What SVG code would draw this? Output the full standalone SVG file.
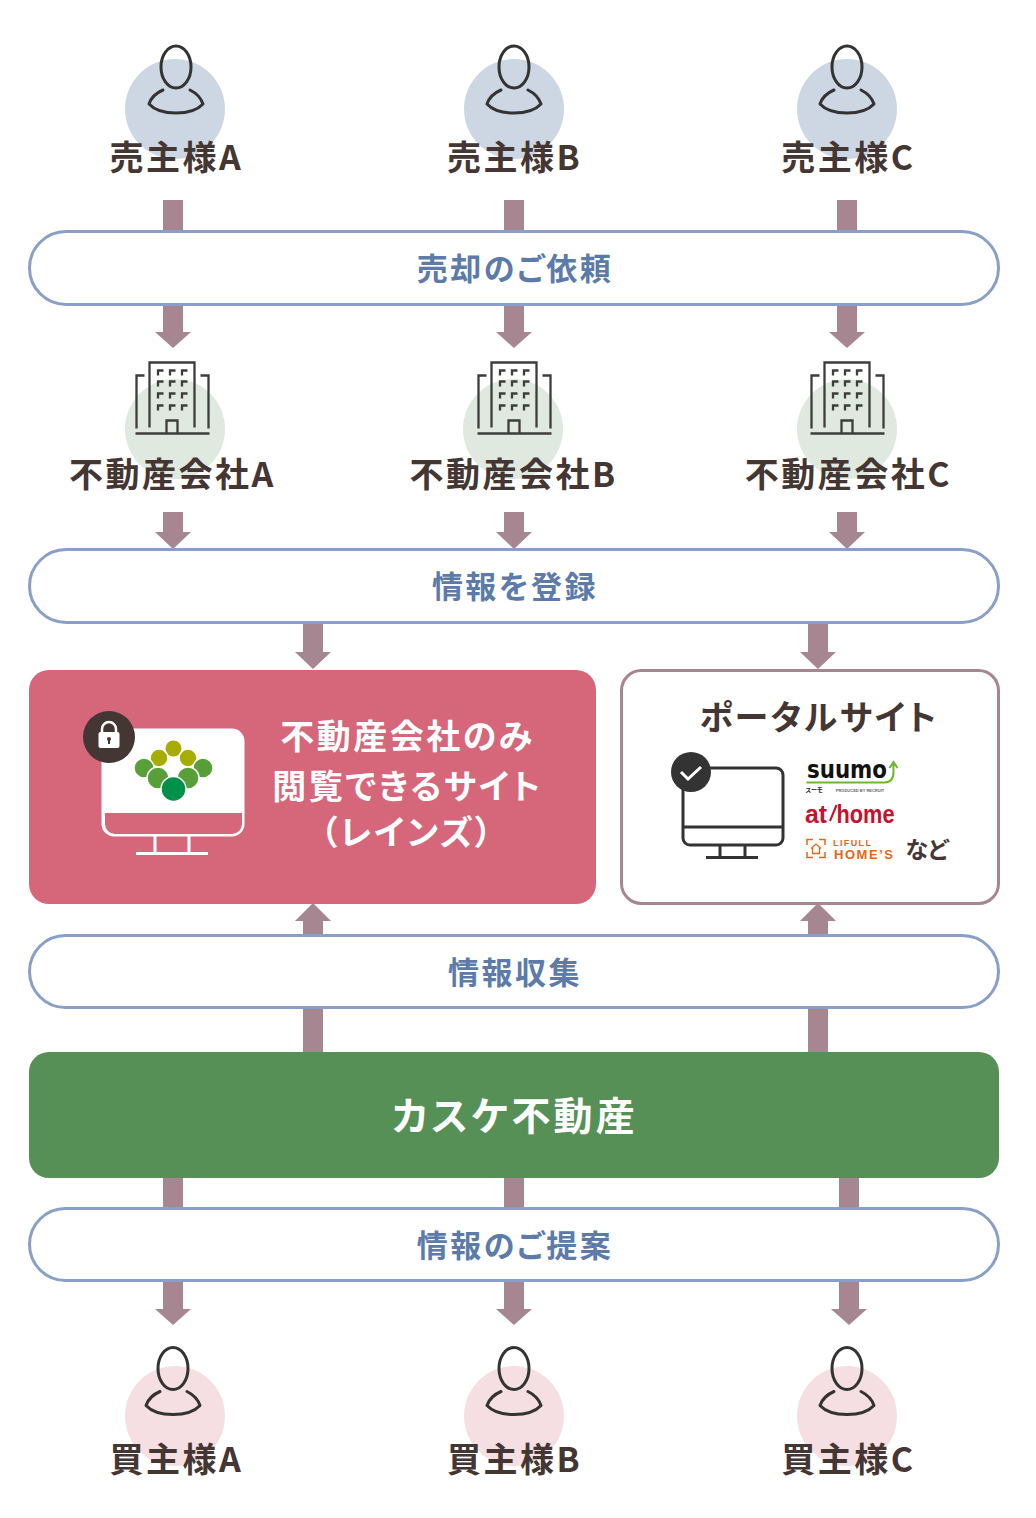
<svg xmlns="http://www.w3.org/2000/svg" width="1036" height="1518" viewBox="0 0 1036 1518">
<style>
text{font-family:"Noto Sans CJK JP","Noto Sans",sans-serif;font-weight:700;text-anchor:middle;dominant-baseline:central;font-feature-settings:"palt"}
.lab{font-size:34px;fill:#443632;letter-spacing:2.500px}
.pl{font-size:31px;fill:#5c7ba8;letter-spacing:2.500px}
.wt{font-size:34px;fill:#fff;letter-spacing:2.500px}
.pill{fill:#fff;stroke:#8a9fc8;stroke-width:3}
.ln{fill:none;stroke:#333;stroke-width:3;stroke-linecap:round;stroke-linejoin:round}
.bl{fill:none;stroke:#3d3d3d;stroke-width:2.300}
.ar{fill:#a68690}
.wl{fill:none;stroke:#fff;stroke-width:3}
.dl{fill:none;stroke:#333;stroke-width:3}
.logo{font-family:"Liberation Sans",sans-serif;dominant-baseline:alphabetic}
</style>
<defs>
<symbol id="person" overflow="visible"><g class="ln"><ellipse cx="0" cy="0" rx="15" ry="21"/><path d="M-13 23C-20 26-25 31-27 37C-16 49 16 49 27 37C25 31 20 26 14 23"/></g></symbol>
<symbol id="bld" overflow="visible"><g class="bl"><path d="M1 73H75M2 68V15H10M74 68V15H66M15 67V2H60V67M32 73V60H43V73"/><path d="M23.500 15V10H29M35.500 15V10H41M47.500 15V10H53M23.500 26V21H29M35.500 26V21H41M47.500 26V21H53M23.500 38V33H29M35.500 38V33H41M47.500 38V33H53M23.500 50V45H29M35.500 50V45H41M47.500 50V45H53"/></g></symbol>
<path id="d" d="M-10 0H10V28H18L0 44L-18 28H-10Z"/>
<path id="s" d="M-10 0H10V20H18L0 37L-18 20H-10Z"/>
<path id="t" d="M-10 0H10V30H18L0 47L-18 30H-10Z"/>
</defs>
<g id="connectors" class="ar">
<rect x="163" y="200" width="20" height="32"/><rect x="504" y="200" width="20" height="32"/><rect x="837" y="200" width="20" height="32"/>
<use href="#d" x="173" y="304"/><use href="#d" x="514" y="304"/><use href="#d" x="847" y="304"/>
<use href="#s" x="173" y="512"/><use href="#s" x="514" y="512"/><use href="#s" x="847" y="512"/>
<use href="#t" x="313" y="622"/><use href="#t" x="818" y="622"/>
<path d="M303 936V921H295L313 903L331 921H323V936Z"/><path d="M808 936V921H800L818 903L836 921H828V936Z"/>
<rect x="303" y="1007" width="20" height="46"/><rect x="808" y="1007" width="20" height="46"/>
<rect x="163" y="1177" width="20" height="32"/><rect x="504" y="1177" width="20" height="32"/><rect x="839" y="1177" width="20" height="32"/>
<use href="#d" x="173" y="1281"/><use href="#d" x="514" y="1281"/><use href="#d" x="849" y="1281"/>
</g>
<g id="seller-a"><circle cx="175" cy="109" r="50" fill="#cdd6e3"/><use href="#person" x="176" y="67"/><text class="lab" x="176.500" y="155">売主様A</text></g>
<g id="seller-b"><circle cx="514" cy="109" r="50" fill="#cdd6e3"/><use href="#person" x="514" y="67"/><text class="lab" x="514.500" y="155">売主様B</text></g>
<g id="seller-c"><circle cx="847" cy="109" r="50" fill="#cdd6e3"/><use href="#person" x="847" y="67"/><text class="lab" x="848.500" y="155">売主様C</text></g>
<g id="pill-1"><rect class="pill" x="29.500" y="231.500" width="969" height="73" rx="36.500"/><text class="pl" x="515" y="266">売却のご依頼</text></g>
<g id="co-a"><circle cx="175" cy="429" r="50" fill="#dfe9df"/><use href="#bld" x="134.500" y="360.500"/><text class="lab" x="172.500" y="472">不動産会社A</text></g>
<g id="co-b"><circle cx="513" cy="429" r="50" fill="#dfe9df"/><use href="#bld" x="476.500" y="360.500"/><text class="lab" x="513.500" y="472">不動産会社B</text></g>
<g id="co-c"><circle cx="847" cy="429" r="50" fill="#dfe9df"/><use href="#bld" x="809.500" y="360.500"/><text class="lab" x="848.500" y="472">不動産会社C</text></g>
<g id="pill-2"><rect class="pill" x="29.500" y="549.500" width="969" height="73" rx="36.500"/><text class="pl" x="515" y="584">情報を登録</text></g>
<g id="reins">
<rect x="29" y="670" width="567" height="234" rx="20" fill="#d6667a"/>
<path d="M115 730H232A11 11 0 0 1 243 741V824A11 11 0 0 1 232 835H114A11 11 0 0 1 103 824V741Z" fill="#fff" stroke="#fff" stroke-width="3"/>
<path d="M105 813H242V824A10 10 0 0 1 232 834H115A10 10 0 0 1 105 824Z" fill="#d6667a"/>
<path class="wl" d="M155 836V853M189 836V853M136 853.500H208"/>
<circle cx="109" cy="737" r="26" fill="#443632"/>
<path d="M102 733V729A7 7 0 0 1 116 729V733" fill="none" stroke="#fff" stroke-width="2.500"/><rect x="98.500" y="732" width="21" height="16" rx="2" fill="#fff"/><circle cx="109" cy="739" r="2" fill="#443632"/><rect x="108" y="739" width="2" height="5" fill="#443632"/>
<circle cx="173.500" cy="748.500" r="8" fill="#a5ae00"/>
<g stroke="#fff" stroke-width="1.500"><circle cx="159" cy="758" r="9" fill="#a5ae00"/><circle cx="188" cy="758" r="9" fill="#a5ae00"/><circle cx="144" cy="768" r="10" fill="#589f3a"/><circle cx="203" cy="768" r="10" fill="#589f3a"/><circle cx="158" cy="778" r="11" fill="#589f3a"/><circle cx="188" cy="778" r="11" fill="#589f3a"/><circle cx="173.500" cy="789" r="12.500" fill="#00904a"/></g>
<text class="wt" x="407.500" y="734">不動産会社のみ</text><text class="wt" x="407.500" y="784">閲覧できるサイト</text><text class="wt" x="407.500" y="830">（レインズ）</text>
</g>
<g id="portal">
<rect x="621.500" y="670.500" width="377" height="233" rx="20" fill="#fff" stroke="#a68690" stroke-width="3"/>
<text class="lab" x="819" y="715">ポータルサイト</text>
<rect x="683" y="768" width="100" height="77" rx="7" class="dl"/><path class="dl" d="M683 827H783M720 845V857M745 845V857M706 857.500H758"/>
<circle cx="691" cy="772" r="20" fill="#333"/><path d="M681 772L688 779L701 767" fill="none" stroke="#fff" stroke-width="3"/>
<text class="logo" x="847" y="778" font-size="24" fill="#111" textLength="80" lengthAdjust="spacingAndGlyphs" style="font-family:'DejaVu Sans',sans-serif">suumo</text>
<path d="M806.500 782.500H884Q893.500 782.500 893.500 772V764M889.500 768L893.500 762L897.500 768" fill="none" stroke="#6cb52d" stroke-width="2"/>
<text x="814" y="789" font-size="6" fill="#222">スーモ</text><text class="logo" x="860" y="792" font-size="4" fill="#666">PRODUCED BY RECRUIT</text>
<text class="logo" x="816" y="823" font-size="25" fill="#c8102e" textLength="22" lengthAdjust="spacingAndGlyphs">at</text>
<path d="M836.500 805L830 821" fill="none" stroke="#c8102e" stroke-width="2"/>
<text class="logo" x="865.500" y="823" font-size="25" fill="#c8102e" textLength="58" lengthAdjust="spacingAndGlyphs">home</text>
<path d="M807 845V839.500H813M819 839.500H825V845M807 852V857.500H813M819 857.500H825V852" fill="none" stroke="#e8651a" stroke-width="1.500"/><path d="M811 848.500L816 844L821 848.500M812.500 847V853.500H819.500V847" fill="none" stroke="#e8651a" stroke-width="1.300"/>
<text class="logo" x="852" y="846" font-size="9" fill="#e8651a" textLength="38">LIFULL</text>
<text class="logo" x="863.500" y="858.500" font-size="13" fill="#e8651a" textLength="59">HOME’S</text>
<text x="927" y="848" font-size="23" fill="#443632" font-weight="500">など</text>
</g>
<g id="pill-3"><rect class="pill" x="29.500" y="935.500" width="969" height="72" rx="36"/><text class="pl" x="515" y="970">情報収集</text></g>
<g id="kasuke"><rect x="29" y="1052" width="970" height="126" rx="20" fill="#569057"/><text x="515" y="1113" font-size="39" fill="#fff" letter-spacing="3.200">カスケ不動産</text></g>
<g id="pill-4"><rect class="pill" x="29.500" y="1208.500" width="969" height="72" rx="36"/><text class="pl" x="515" y="1243">情報のご提案</text></g>
<g id="buyer-a"><circle cx="175" cy="1416" r="50" fill="#f5dfe3"/><use href="#person" x="173" y="1368.500"/><text class="lab" x="176.500" y="1457">買主様A</text></g>
<g id="buyer-b"><circle cx="514" cy="1416" r="50" fill="#f5dfe3"/><use href="#person" x="514" y="1368.500"/><text class="lab" x="514.500" y="1457">買主様B</text></g>
<g id="buyer-c"><circle cx="847" cy="1416" r="50" fill="#f5dfe3"/><use href="#person" x="847" y="1368.500"/><text class="lab" x="848.500" y="1457">買主様C</text></g>
</svg>
